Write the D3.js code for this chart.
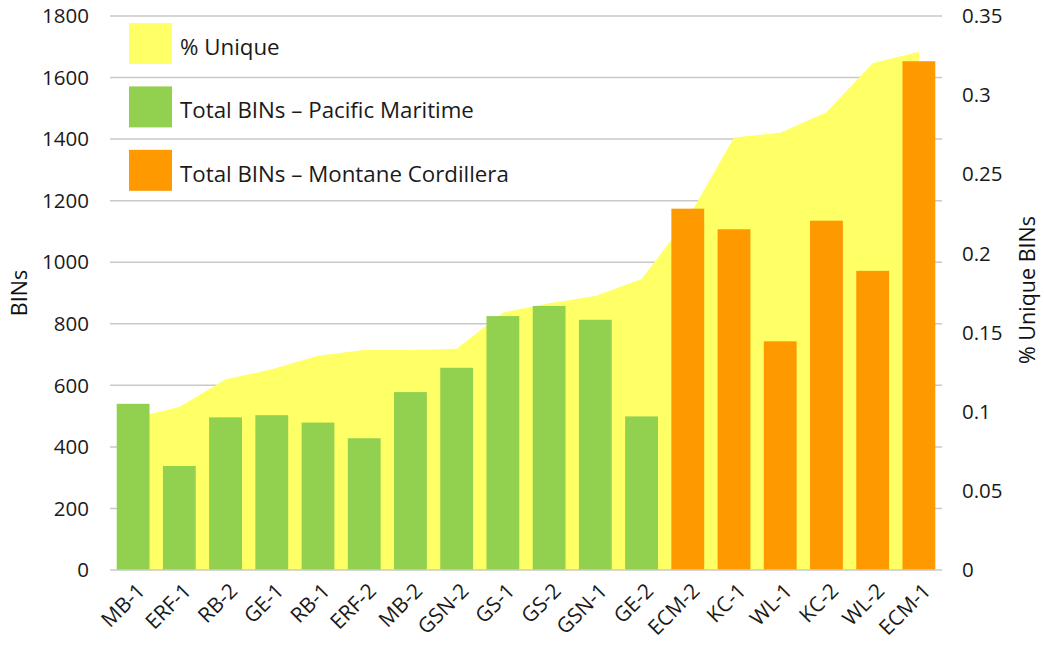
<!DOCTYPE html>
<html>
<head>
<meta charset="utf-8">
<script src="https://cdn.jsdelivr.net/npm/d3@7"></script>
<style>
  html, body { margin: 0; padding: 0; background: #fff; }
  svg { display: block; font-family: "Open Sans", sans-serif; }
</style>
</head>
<body>
<svg id="chart" width="1044" height="645"></svg>
<script>
// Sampling sites, ordered by share of unique BINs
const sites = ["MB-1", "ERF-1", "RB-2", "GE-1", "RB-1", "ERF-2", "MB-2", "GSN-2", "GS-1",
               "GS-2", "GSN-1", "GE-2", "ECM-2", "KC-1", "WL-1", "KC-2", "WL-2", "ECM-1"];
// Ecozone of each site
const zones = ["Pacific", "Pacific", "Pacific", "Pacific", "Pacific", "Pacific", "Pacific", "Pacific", "Pacific",
               "Pacific", "Pacific", "Pacific", "Montane", "Montane", "Montane", "Montane", "Montane", "Montane"];
// Total BINs per site
const totalBins = [540, 338, 496, 503, 479, 428, 578, 657, 825, 858, 813, 499, 1174, 1107, 743, 1135, 972, 1653];
// Proportion of BINs unique to the site
const pctUnique = [0.096, 0.103, 0.1205, 0.1268, 0.1354, 0.139, 0.139, 0.1398, 0.1626, 0.1685, 0.1731, 0.1839,
                   0.222, 0.2732, 0.2763, 0.2892, 0.3201, 0.3274];
// Axis ticks
const leftTicks = [0, 200, 400, 600, 800, 1000, 1200, 1400, 1600, 1800];
const rightTicks = [0, 0.05, 0.1, 0.15, 0.2, 0.25, 0.3, 0.35];
// Legend entries
const legendLabels = ["% Unique", "Total BINs \u2013 Pacific Maritime", "Total BINs \u2013 Montane Cordillera"];
const legendColors = ["#FFFF66", "#92D050", "#FF9900"];

const colorFor = { Pacific: "#92D050", Montane: "#FF9900" };

(function draw() {
  const svg = d3.select("#chart");
  const plotLeft = 110, plotRight = 942, plotTop = 16, plotBottom = 570;

  const x = d3.scaleBand().domain(sites).range([plotLeft, plotRight]).paddingInner(0.29).paddingOuter(0.145);
  const yL = d3.scaleLinear().domain([0, 1800]).range([plotBottom, plotTop]);
  const yR = d3.scaleLinear().domain([0, 0.35]).range([plotBottom, plotTop]);
  const cx = s => x(s) + x.bandwidth() / 2;

  // Horizontal gridlines
  svg.append("g").selectAll("line").data(leftTicks.filter(d => d > 0)).join("line")
    .attr("x1", plotLeft).attr("x2", plotRight)
    .attr("y1", d => yL(d)).attr("y2", d => yL(d))
    .attr("stroke", "#C9C9C9").attr("stroke-width", 1.5);

  // Area for % unique
  const area = d3.area()
    .x((d, i) => cx(sites[i]))
    .y0(yR(0))
    .y1(d => yR(d));
  svg.append("path").datum(pctUnique).attr("d", area).attr("fill", "#FFFF66");

  // Bars for total BINs
  svg.append("g").selectAll("rect").data(sites).join("rect")
    .attr("x", d => x(d))
    .attr("width", x.bandwidth())
    .attr("y", (d, i) => yL(totalBins[i]))
    .attr("height", (d, i) => yL(0) - yL(totalBins[i]))
    .attr("fill", (d, i) => colorFor[zones[i]]);

  // Baseline
  svg.append("line").attr("x1", plotLeft).attr("x2", plotRight)
    .attr("y1", yL(0)).attr("y2", yL(0))
    .attr("stroke", "#C9C9C9").attr("stroke-width", 1.5);

  // Left axis labels
  svg.append("g").selectAll("text").data(leftTicks).join("text")
    .attr("x", 89).attr("y", d => yL(d)).attr("dy", "0.35em")
    .attr("text-anchor", "end").attr("font-size", 20.5).attr("fill", "#1a1a1a")
    .text(d => d);

  // Right axis labels
  svg.append("g").selectAll("text").data(rightTicks).join("text")
    .attr("x", 962).attr("y", d => yR(d)).attr("dy", "0.35em")
    .attr("text-anchor", "start").attr("font-size", 20.5).attr("fill", "#1a1a1a")
    .text(d => String(+d.toFixed(2)));

  // Category labels
  svg.append("g").selectAll("text").data(sites).join("text")
    .attr("transform", d => `translate(${cx(d) + 8},${587}) rotate(-45)`)
    .attr("text-anchor", "end").attr("dy", "0.35em")
    .attr("font-size", 21).attr("fill", "#1a1a1a")
    .text(d => d);

  // Axis titles
  svg.append("text")
    .attr("transform", `translate(27,293) rotate(-90)`)
    .attr("text-anchor", "middle").attr("font-size", 21.5).attr("fill", "#111")
    .text("BINs");
  svg.append("text")
    .attr("transform", `translate(1035,290) rotate(-90)`)
    .attr("text-anchor", "middle").attr("font-size", 21.5).attr("fill", "#111")
    .text("% Unique BINs");

  // Legend
  const legend = svg.append("g").selectAll("g").data(legendLabels).join("g")
    .attr("transform", (d, i) => `translate(129,${23 + i * 63.4})`);
  legend.append("rect").attr("width", 43).attr("height", 41)
    .attr("fill", (d, i) => legendColors[i]);
  legend.append("text").attr("x", 51).attr("y", 32)
    .attr("font-size", 22.3).attr("fill", "#1a1a1a")
    .text(d => d);
})();
</script>
</body>
</html>
